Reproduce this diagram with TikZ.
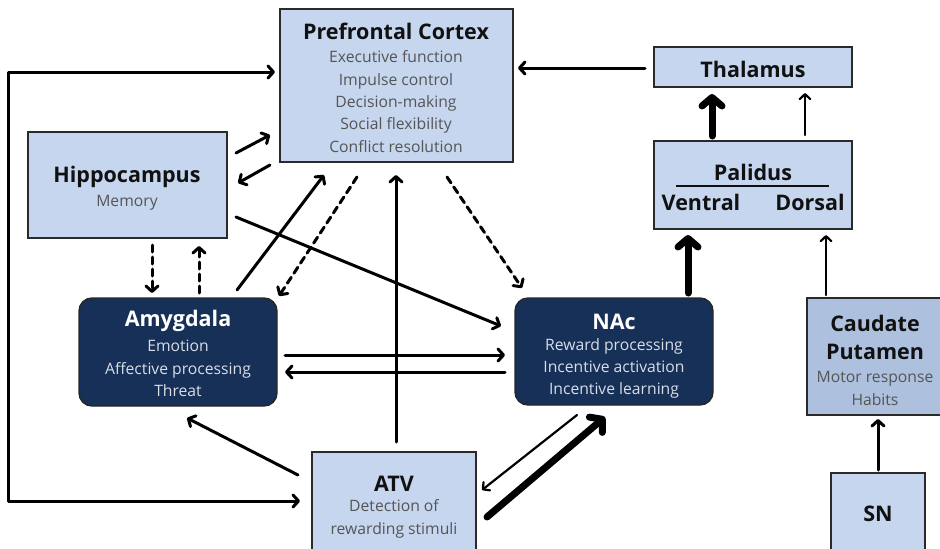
\documentclass[tikz,border=0pt]{standalone}
\usepackage{fontspec}
\setmainfont{Open Sans}
\usetikzlibrary{arrows.meta,calc}
\definecolor{boxfill}{HTML}{C6D6EF}
\definecolor{cpfill}{HTML}{ADC1DE}
\definecolor{navy}{HTML}{163058}
\definecolor{boxline}{HTML}{2A2A2A}
\definecolor{titlecol}{HTML}{111111}
\definecolor{bodycol}{HTML}{555555}
\definecolor{dbodycol}{HTML}{D8DDE6}
\begin{document}
\begin{tikzpicture}[x=1pt,y=-1pt,
  lbox/.style={draw=boxline,line width=1.4pt,fill=boxfill,anchor=north west,inner sep=0pt,outer sep=0pt},
  dbox/.style={draw=black!85,line width=1.4pt,fill=navy,rounded corners=13pt,anchor=north west,inner sep=0pt,outer sep=0pt},
  ttl/.style={font=\fontsize{21.5}{28}\selectfont\bfseries,text=titlecol,inner sep=0pt,align=center},
  dttl/.style={ttl,text=white},
  bdy/.style={font=\fontsize{15.7}{22.4}\selectfont,text=bodycol,align=center,inner sep=0pt},
  dbdy/.style={bdy,text=dbodycol},
  arr/.style={line width=3pt,line cap=round,line join=round,-{Straight Barb[length=5.5pt,width=12pt,round]}},
  thinarr/.style={line width=2.2pt,line cap=round,line join=round,-{Straight Barb[length=5pt,width=10.5pt,round]}},
  thickarr/.style={line width=7pt,line cap=round,line join=round,-{Straight Barb[length=8.5pt,width=20pt,round]}},
  dsh/.style={dash pattern=on 7pt off 5pt}
]
\useasboundingbox (0,0) rectangle (940,549);

% boxes
\node[lbox,minimum width=233pt,minimum height=153pt] (pfc) at (280,9) {};
\node[lbox,minimum width=199pt,minimum height=106pt] (hip) at (28,132) {};
\node[dbox,minimum width=198pt,minimum height=108pt] (amy) at (79,298) {};
\node[dbox,minimum width=198pt,minimum height=107pt] (nac) at (515,298) {};
\node[lbox,minimum width=164pt,minimum height=110pt] (atv) at (312,452) {};
\node[lbox,minimum width=198pt,minimum height=40pt] (thal) at (654,47) {};
\node[lbox,minimum width=198pt,minimum height=88pt] (pal) at (654,141) {};
\node[lbox,fill=cpfill,minimum width=136pt,minimum height=117pt] (cp) at (807,298) {};
\node[lbox,minimum width=94pt,minimum height=82pt] (sn) at (831,473) {};

% texts
\node[ttl] (pfcT) at (396,31.5) {Prefrontal Cortex};
\node[bdy] (pfcB) at (396,101.5) {Executive function\\Impulse control\\Decision-making\\Social flexibility\\Conflict resolution};
\node[ttl] (hipT) at (127,177) {Hippocampus};
\node[bdy] (hipB) at (127,203) {Memory};
\node[dttl] (amyT) at (178,321) {Amygdala};
\node[dbdy] (amyB) at (178,368.5) {Emotion\\Affective processing\\Threat};
\node[dttl] (nacT) at (614,321.5) {NAc};
\node[dbdy] (nacB) at (614,368.5) {Reward processing\\Incentive activation\\Incentive learning};
\node[ttl] (atvT) at (394,483.5) {ATV};
\node[bdy] (atvB) at (394,519) {Detection of\\rewarding stimuli};
\node[ttl] (thalT) at (753,69) {Thalamus};
\node[ttl] (palT) at (753,172) {Palidus};
\node[ttl] (palV) at (701,202) {Ventral};
\node[ttl] (palD) at (810,202) {Dorsal};
\coordinate (palL1) at (676,186);
\coordinate (palL2) at (829,186);
\draw[line width=2pt,titlecol] (palL1) -- (palL2);
\node[ttl] (cpT) at (875,337.5) {Caudate\\Putamen};
\node[bdy] (cpB) at (875,388.5) {Motor response\\Habits};
\node[ttl] (snT) at (878,514) {SN};

% connectors
\draw[line width=3pt,line cap=round,line join=round,{Straight Barb[length=5.5pt,width=12pt,round]}-{Straight Barb[length=5.5pt,width=12pt,round]}]
  ($(atv.north west)+(-12,49)$) -| ($(hip.north west)+(-20,-60)$) -- ($(pfc.north west)+(-5,63)$);
\draw[arr] ($(thal.north west)+(-9,21)$) -- ($(pfc.north east)+(5,59)$);
\draw[thickarr] ($(pal.north west)+(58,-5)$) -- ($(thal.south west)+(58,7)$);
\draw[thinarr] ($(pal.north west)+(151,-6)$) -- ($(thal.south west)+(151,6)$);
\draw[thickarr] ($(nac.north west)+(173,-5)$) -- ($(pal.south west)+(34,6)$);
\draw[thinarr] ($(cp.north west)+(19,-3)$) -- ($(pal.south west)+(172,6)$);
\draw[arr] ($(sn.north west)+(47,-3)$) -- ($(cp.south west)+(71,4)$);
\draw[arr] ($(hip.north east)+(9,21)$) -- ($(pfc.north west)+(-10,126)$);
\draw[arr] ($(pfc.north west)+(-10,156)$) -- ($(hip.north east)+(11,51)$);
\draw[arr] ($(hip.north east)+(9,85)$) -- ($(nac.north west)+(-14,28)$);
\draw[arr] ($(amy.north east)+(-40,-8)$) -- ($(pfc.north west)+(44,166)$);
\draw[arr,dsh] ($(pfc.north west)+(77,168)$) -- ($(amy.north east)+(2,-2)$);
\draw[arr] ($(atv.north west)+(84,-10)$) -- ($(pfc.north west)+(116,166)$);
\draw[arr,dsh] ($(pfc.north west)+(167,168)$) -- ($(nac.north west)+(7,-10)$);
\draw[arr,dsh] ($(hip.north west)+(124,113)$) -- ($(amy.north west)+(73,-5)$);
\draw[arr,dsh] ($(amy.north west)+(120,-5)$) -- ($(hip.north west)+(171,114)$);
\draw[arr] ($(amy.north east)+(8,57)$) -- ($(nac.north west)+(-10,57)$);
\draw[arr] ($(nac.north west)+(-10,74)$) -- ($(amy.north east)+(8,74)$);
\draw[arr] ($(atv.north west)+(-14,23)$) -- ($(amy.south west)+(108,12)$);
\draw[thinarr] ($(nac.south west)+(62,10)$) -- ($(atv.north east)+(6,38)$);
\draw[thickarr] ($(atv.north east)+(11,65)$) -- ($(nac.south west)+(90,12)$);
\end{tikzpicture}
\end{document}
